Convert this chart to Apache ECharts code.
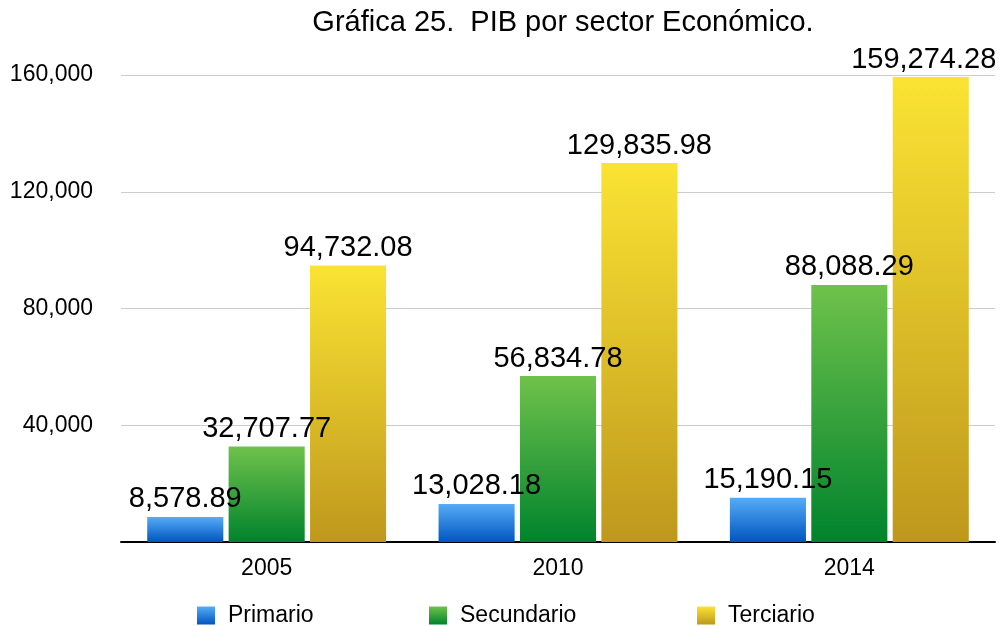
<!DOCTYPE html>
<html>
<head>
    <meta charset="utf-8" />
    <title>Gráfica 25. PIB por sector Económico.</title>
    <script src="https://cdn.jsdelivr.net/npm/echarts@6/dist/echarts.min.js"></script>
    <style type="text/css">
        html, body { width: 100%; height: 100%; margin: 0; background: #fff; }
        #chart { width: 1007px; height: 626px; }
    </style>
</head>
<body>
    <div id="chart"></div>
    <script>
        var years = ['2005', '2010', '2014'];
        var primario = [8578.89, 13028.18, 15190.15];
        var secundario = [32707.77, 56834.78, 88088.29];
        var terciario = [94732.08, 129835.98, 159274.28];

        var FONT = '"Liberation Sans", Helvetica, Arial, sans-serif';

        function grad(top, bottom) {
            return new echarts.graphic.LinearGradient(0, 0, 0, 1, [
                { offset: 0, color: top },
                { offset: 1, color: bottom }
            ]);
        }

        function fmt(v) {
            return v.toLocaleString('en-US', { minimumFractionDigits: 2, maximumFractionDigits: 2 });
        }

        var colBlue = grad('#56acf7', '#0056bf');
        var colGreen = grad('#6fc24b', '#00832d');
        var colYellow = grad('#fbe333', '#be981d');

        function serie(name, data, color) {
            return {
                name: name,
                type: 'bar',
                data: data,
                barGap: '7%',
                barCategoryGap: '18%',
                itemStyle: { color: color },
                label: {
                    show: true,
                    position: 'top',
                    distance: 3,
                    color: '#000',
                    fontSize: 29,
                    fontFamily: FONT,
                    formatter: function (p) { return fmt(p.value); }
                }
            };
        }

        function legendItem(name, left) {
            return {
                left: left,
                top: 599,
                itemWidth: 18,
                itemHeight: 18,
                itemGap: 0,
                icon: 'rect',
                textStyle: { fontSize: 23, fontFamily: FONT, color: '#000', padding: [0, 0, 0, 8] },
                data: [name]
            };
        }

        // el último rótulo se corre un poco a la izquierda para no salirse
        var terciarioData = terciario.map(function (v, i) {
            return i === terciario.length - 1 ? { value: v, label: { offset: [-7, 0] } } : v;
        });

        var myChart = echarts.init(document.getElementById('chart'));
        var option = {
            animation: false,
            title: {
                text: 'Gráfica 25.  PIB por sector Económico.',
                left: 558,
                textAlign: 'center',
                top: 3,
                textStyle: { fontSize: 29, fontWeight: 'normal', fontFamily: FONT, color: '#000' }
            },
            legend: [
                legendItem('Primario', 192),
                legendItem('Secundario', 424),
                legendItem('Terciario', 692)
            ],
            grid: { left: 121, right: 12, top: 75, bottom: 84 },
            xAxis: {
                type: 'category',
                data: years,
                axisLine: { lineStyle: { color: '#000', width: 2 } },
                axisTick: { show: false },
                axisLabel: { fontSize: 23, fontFamily: FONT, color: '#000', margin: 15 }
            },
            yAxis: {
                type: 'value',
                min: 0,
                max: 160000,
                interval: 40000,
                axisLine: { show: false },
                axisTick: { show: false },
                splitLine: { lineStyle: { color: '#cccccc', width: 1 } },
                axisLabel: {
                    fontSize: 23, fontFamily: FONT, color: '#000', margin: 28,
                    formatter: function (v) { return v === 0 ? '' : v.toLocaleString('en-US'); }
                }
            },
            series: [
                serie('Primario', primario, colBlue),
                serie('Secundario', secundario, colGreen),
                serie('Terciario', terciarioData, colYellow)
            ]
        };
        myChart.setOption(option);
    </script>
</body>
</html>
